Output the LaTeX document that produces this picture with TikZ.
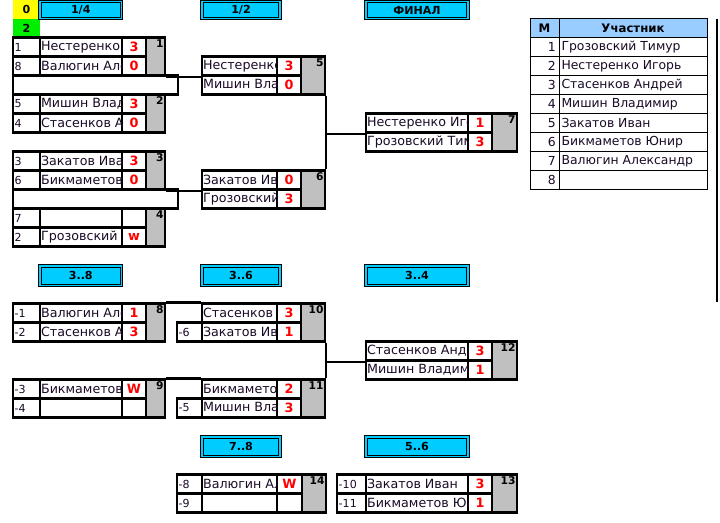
\documentclass[tikz,border=0pt]{standalone}
\usepackage{fontspec}
\setmainfont{DejaVu Sans}
\usetikzlibrary{fit}
\definecolor{hdrcyan}{HTML}{00CCFF}
\definecolor{cellgray}{HTML}{C0C0C0}
\definecolor{tblblue}{HTML}{99CCFF}
\definecolor{scorered}{HTML}{FF0000}
\definecolor{namecol}{HTML}{1A0A26}
\definecolor{yel}{HTML}{FFFF00}
\definecolor{grn}{HTML}{00EE00}
\tikzset{
  cellbox/.style={draw=black, line width=1.8pt, inner sep=0pt},
  gapbox/.style={draw=black, line width=1.8pt, inner sep=0pt},
  conn/.style={draw=black, line width=1.8pt},
  hdr/.style={draw=black, line width=0.7pt, double=hdrcyan, double distance=1.1pt, fill=hdrcyan, inner sep=0pt},
  hdrtxt/.style={font=\fontsize{8.3}{10}\selectfont\bfseries, text=black},
  nametxt/.style={anchor=west, inner sep=0pt, font=\fontsize{9.5}{11}\selectfont, text=namecol},
  seedtxt/.style={anchor=west, inner sep=0pt, font=\fontsize{8.3}{10}\selectfont, text=namecol},
  scoretxt/.style={inner sep=0pt, font=\fontsize{9.6}{11}\selectfont\bfseries, text=scorered},
  glabel/.style={anchor=north east, inner xsep=1.8pt, inner ysep=2pt, font=\fontsize{8}{9}\selectfont\bfseries},
  tcell/.style={draw=black, line width=0.6pt, inner sep=0pt},
  ttxt/.style={inner sep=0pt, font=\fontsize{9.3}{11}\selectfont, text=namecol}
}
% #1 id, #2 seed-left x, #3 name-left x, #4 score-left x, #5 gray-left x, #6 right x, #7 top y, #8 label
\newcommand\game[8]{%
  \pgfmathsetmacro\gymid{#7+19}%
  \pgfmathsetmacro\gybot{#7+38}%
  \ifdim #2pt<#3pt
    \node[cellbox, fit={(#2,#7) (#3,\gymid)}] (#1-s1) {};
    \node[cellbox, fit={(#2,\gymid) (#3,\gybot)}] (#1-s2) {};
  \fi
  \node[cellbox, fit={(#3,#7) (#4,\gymid)}] (#1-n1) {};
  \node[cellbox, fit={(#3,\gymid) (#4,\gybot)}] (#1-n2) {};
  \node[cellbox, fit={(#4,#7) (#5,\gymid)}] (#1-c1) {};
  \node[cellbox, fit={(#4,\gymid) (#5,\gybot)}] (#1-c2) {};
  \node[cellbox, fill=cellgray, fit={(#5,#7) (#6,\gybot)}] (#1-g) {};
  \node[glabel] at (#1-g.north east) {#8};
}
\newcommand\sdt[2]{\node[seedtxt] at ([xshift=2pt]#1.west) {#2};}
% names are cut at the cell edge, as in the spreadsheet
\newcommand\nmt[2]{\begin{scope}
  \clip ([xshift=0.9pt]#1.south west) rectangle ([xshift=-0.9pt]#1.north east);
  \node[nametxt] at ([xshift=1.5pt]#1.west) {#2};
\end{scope}}
\newcommand\sct[2]{\node[scoretxt] at (#1.center) {#2};}

\begin{document}
\begin{tikzpicture}[x=0.75pt,y=-0.75pt]
\useasboundingbox[fill=white] (0,0) rectangle (720,522);

% top-left status cells
\node[fill=yel, inner sep=0pt, fit={(13,0) (40,18.5)}, label={[hdrtxt]center:0}] (st0) {};
\node[fill=grn, inner sep=0pt, fit={(13,18.5) (40,37.5)}, label={[hdrtxt]center:2}] (st2) {};

% headers
\node[hdr, fit={(40,1.5) (121.5,18.5)}, label={[hdrtxt]center:1/4}] (h14) {};
\node[hdr, fit={(202,1.5) (280,18.5)}, label={[hdrtxt]center:1/2}] (h12) {};
\node[hdr, fit={(366,1.5) (468,18.5)}, label={[hdrtxt]center:ФИНАЛ}] (hfin) {};
\node[hdr, fit={(40,266) (121.5,285.5)}, label={[hdrtxt]center:3..8}] (h38) {};
\node[hdr, fit={(202,266) (280,285.5)}, label={[hdrtxt]center:3..6}] (h36) {};
\node[hdr, fit={(366,266) (468,285.5)}, label={[hdrtxt]center:3..4}] (h34) {};
\node[hdr, fit={(202,437) (280,456.5)}, label={[hdrtxt]center:7..8}] (h78) {};
\node[hdr, fit={(366,437) (468,456.5)}, label={[hdrtxt]center:5..6}] (h56) {};

% gap boxes between first-round games
\node[gapbox, fit={(13,75.5) (178,94.5)}] (gap12) {};
\node[gapbox, fit={(13,189.5) (178,208.5)}] (gap34) {};

% first round
\game{m1}{13}{40}{122}{146}{165}{37.5}{1}
\game{m2}{13}{40}{122}{146}{165}{94.5}{2}
\game{m3}{13}{40}{122}{146}{165}{151.5}{3}
\game{m4}{13}{40}{122}{146}{165}{208.5}{4}
% semis and final
\game{m5}{202}{202}{277}{301}{325}{56.5}{5}
\game{m6}{202}{202}{277}{301}{325}{170.5}{6}
\game{m7}{366}{366}{468}{492}{517}{113.5}{7}
% places 3..8
\game{m8}{13}{40}{122}{146}{165}{303.5}{8}
\game{m9}{13}{40}{122}{146}{165}{379.5}{9}
\game{m10}{202}{202}{277}{301}{325}{303.5}{10}
\node[cellbox, fit={(177,322.5) (202,341.5)}] (m10-s2) {};
\game{m11}{202}{202}{277}{301}{325}{379.5}{11}
\node[cellbox, fit={(177,398.5) (202,417.5)}] (m11-s2) {};
\game{m12}{366}{366}{468}{492}{517}{341.5}{12}
\game{m14}{177}{202}{277}{302}{326}{474.5}{14}
\game{m13}{337}{366}{468}{492}{517}{474.5}{13}

% connectors
\draw[conn] (m1-g.south east) -- (m5-n1.south west);
\draw[conn] (m3-g.south east) -- (m6-n1.south west);
\draw[conn] (m5-g.south east) -- (m6-g.north east);
\draw[conn] (m7-n1.south west -| m5-g.east) -- (m7-n1.south west);
\draw[conn] (m8-g.north east) -- (m10-n1.north west);
\draw[conn] (m9-g.north east) -- (m11-n1.north west);
\draw[conn] (m10-g.south east) -- (m11-g.north east);
\draw[conn] (m12-n1.south west -| m10-g.east) -- (m12-n1.south west);

% texts
\sdt{m1-s1}{1}\nmt{m1-n1}{Нестеренко}\sct{m1-c1}{3}
\sdt{m1-s2}{8}\nmt{m1-n2}{Валюгин Але}\sct{m1-c2}{0}
\sdt{m2-s1}{5}\nmt{m2-n1}{Мишин Влади}\sct{m2-c1}{3}
\sdt{m2-s2}{4}\nmt{m2-n2}{Стасенков Ан}\sct{m2-c2}{0}
\sdt{m3-s1}{3}\nmt{m3-n1}{Закатов Иван}\sct{m3-c1}{3}
\sdt{m3-s2}{6}\nmt{m3-n2}{Бикмаметов}\sct{m3-c2}{0}
\sdt{m4-s1}{7}
\sdt{m4-s2}{2}\nmt{m4-n2}{Грозовский}\sct{m4-c2}{w}
\nmt{m5-n1}{Нестеренко}\sct{m5-c1}{3}
\nmt{m5-n2}{Мишин Влад}\sct{m5-c2}{0}
\nmt{m6-n1}{Закатов Ива}\sct{m6-c1}{0}
\nmt{m6-n2}{Грозовский}\sct{m6-c2}{3}
\nmt{m7-n1}{Нестеренко Иго}\sct{m7-c1}{1}
\nmt{m7-n2}{Грозовский Тиму}\sct{m7-c2}{3}
\sdt{m8-s1}{-1}\nmt{m8-n1}{Валюгин Але}\sct{m8-c1}{1}
\sdt{m8-s2}{-2}\nmt{m8-n2}{Стасенков Ан}\sct{m8-c2}{3}
\sdt{m9-s1}{-3}\nmt{m9-n1}{Бикмаметов}\sct{m9-c1}{W}
\sdt{m9-s2}{-4}
\nmt{m10-n1}{Стасенков}\sct{m10-c1}{3}
\sdt{m10-s2}{-6}\nmt{m10-n2}{Закатов Ива}\sct{m10-c2}{1}
\nmt{m11-n1}{Бикмаметов}\sct{m11-c1}{2}
\sdt{m11-s2}{-5}\nmt{m11-n2}{Мишин Влад}\sct{m11-c2}{3}
\nmt{m12-n1}{Стасенков Андр}\sct{m12-c1}{3}
\nmt{m12-n2}{Мишин Владими}\sct{m12-c2}{1}
\sdt{m14-s1}{-8}\nmt{m14-n1}{Валюгин Але}\sct{m14-c1}{W}
\sdt{m14-s2}{-9}
\sdt{m13-s1}{-10}\nmt{m13-n1}{Закатов Иван}\sct{m13-c1}{3}
\sdt{m13-s2}{-11}\nmt{m13-n2}{Бикмаметов Юни}\sct{m13-c2}{1}

% participants table
\node[tcell, fill=tblblue, fit={(530,18.5) (559,37.5)}, label={[ttxt,font=\fontsize{8.8}{10}\selectfont\bfseries,text=black]center:М}] (th1) {};
\node[tcell, fill=tblblue, fit={(559,18.5) (707,37.5)}, label={[ttxt,font=\fontsize{8.8}{10}\selectfont\bfseries,text=black]center:Участник}] (th2) {};
\foreach \i/\pn in {1/Грозовский Тимур,2/Нестеренко Игорь,3/Стасенков Андрей,4/Мишин Владимир,5/Закатов Иван,6/Бикмаметов Юнир,7/Валюгин Александр,8/{}}{
  \pgfmathsetmacro\ty{37.5+19*(\i-1)}
  \pgfmathsetmacro\tyb{\ty+19}
  \node[tcell, fit={(530,\ty) (559,\tyb)}] (tn\i) {};
  \node[tcell, fit={(559,\ty) (707,\tyb)}] (tm\i) {};
  \node[ttxt, anchor=east] at ([xshift=-2.5pt]tn\i.east) {\i};
  \node[ttxt, anchor=west] at ([xshift=2pt]tm\i.west) {\pn};
}

% right edge line
\coordinate (rl1) at (717,18.5);
\coordinate (rl2) at (717,302);
\draw[line width=1.5pt] (rl1) -- (rl2);
\end{tikzpicture}
\end{document}
